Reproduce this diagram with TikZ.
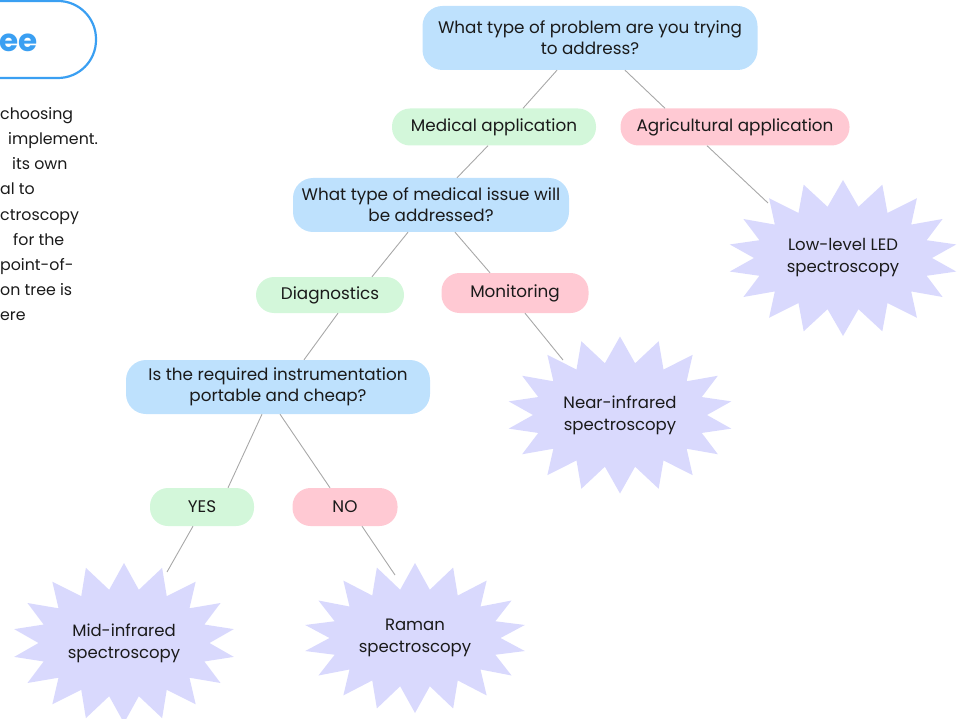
\documentclass[tikz,border=0pt]{standalone}
\usepackage{fontspec}
\setmainfont{Poppins}
\usetikzlibrary{shapes.symbols,calc}
\definecolor{qblue}{HTML}{BEE1FD}
\definecolor{agreen}{HTML}{D3F7DA}
\definecolor{apink}{HTML}{FFC9D3}
\definecolor{starfill}{HTML}{D9D9FD}
\definecolor{linegray}{HTML}{A8A8A8}
\definecolor{titleblue}{HTML}{3A9FF2}
\definecolor{inkgray}{HTML}{1A1A1A}

\begin{document}
\begin{tikzpicture}[x=1pt,y=-1pt,
    every node/.style={text=inkgray,font=\fontsize{16.8}{21}\selectfont,align=center,inner sep=0pt},
    qbox/.style={fill=qblue,rounded corners=20pt},
    pillg/.style={fill=agreen,rounded corners=18pt},
    pillp/.style={fill=apink,rounded corners=18pt},
    burst/.style={starburst,starburst points=18,starburst point height=26pt,
        random starburst=0,fill=starfill,font=\fontsize{16.5}{22}\selectfont},
    link/.style={draw=linegray,line width=0.9pt}]
    \useasboundingbox (0,0) rectangle (960,719);
    \clip (0,0) rectangle (960,719);
    % title and side text, cut at the page edge
    \draw[titleblue,line width=2.2pt,rounded corners=38pt] (-200,1) rectangle (96,78);
    \node[anchor=base west,text=titleblue,font=\fontsize{31}{34}\selectfont\bfseries] (title) at (-1,52) {ee};
    \node[anchor=north west,align=left,text=inkgray,font=\fontsize{15.8}{25.2}\selectfont] (side) at (0,107)
        {choosing\\ \hspace*{8pt}implement.\\ \hspace*{12pt}its own\\ al to\\ ctroscopy\\
         \hspace*{13pt}for the\\ point-of-\\ on tree is\\ ere};

    % questions and answers
    \node[qbox,minimum width=335pt,minimum height=64pt] (q1) at (590,38)
        {What type of problem are you trying\\to address?};
    \node[pillg,minimum width=204pt,minimum height=37pt] (med) at (494,127) {Medical application};
    \node[pillp,minimum width=229pt,minimum height=37pt] (agr) at (735,127) {Agricultural application};
    \node[qbox,minimum width=276pt,minimum height=54pt] (q2) at (431,205)
        {What type of medical issue will\\be addressed?};
    \node[pillg,minimum width=148pt,minimum height=36pt] (diag) at (330,295) {Diagnostics};
    \node[pillp,minimum width=147pt,minimum height=40pt] (mon) at (515,293) {Monitoring};
    \node[qbox,minimum width=304pt,minimum height=54pt] (q3) at (278,387)
        {Is the required instrumentation\\portable and cheap?};
    \node[pillg,minimum width=104pt,minimum height=38pt] (yes) at (202,507) {YES};
    \node[pillp,minimum width=105pt,minimum height=38pt] (no) at (345,507) {NO};

    % results
    \node[burst,minimum width=230pt,minimum height=156pt] (led) at (843,258) {Low-level LED\\spectroscopy};
    \node[burst,minimum width=226pt,minimum height=157pt] (nir) at (620,415) {Near-infrared\\spectroscopy};
    \node[burst,minimum width=223pt,minimum height=160pt] (mir) at (124,643) {Mid-infrared\\spectroscopy};
    \node[burst,minimum width=223pt,minimum height=150pt] (raman) at (415,638) {Raman\\spectroscopy};

    % connectors
    \draw[link] ([xshift=-33pt]q1.south) -- ([xshift=29pt]med.north);
    \draw[link] ([xshift=35pt]q1.south) -- ([xshift=-70pt]agr.north);
    \draw[link] ([xshift=-6pt]med.south) -- ([xshift=26pt]q2.north);
    \draw[link] ([xshift=-28pt]agr.south) -- ($(led.center)+(-75,-55)$);
    \draw[link] ([xshift=-23pt]q2.south) -- ([xshift=42pt]diag.north);
    \draw[link] ([xshift=24pt]q2.south) -- ([xshift=-25pt]mon.north);
    \draw[link] ([xshift=8pt]diag.south) -- ([xshift=26pt]q3.north);
    \draw[link] ([xshift=10pt]mon.south) -- ($(nir.center)+(-57,-55)$);
    \draw[link] ([xshift=-16pt]q3.south) -- ([xshift=26pt]yes.north);
    \draw[link] ([xshift=2pt]q3.south) -- ([xshift=-15pt]no.north);
    \draw[link] ([xshift=-9pt]yes.south) -- ($(mir.center)+(43,-71)$);
    \draw[link] ([xshift=17pt]no.south) -- ($(raman.center)+(-20,-63)$);
\end{tikzpicture}
\end{document}
